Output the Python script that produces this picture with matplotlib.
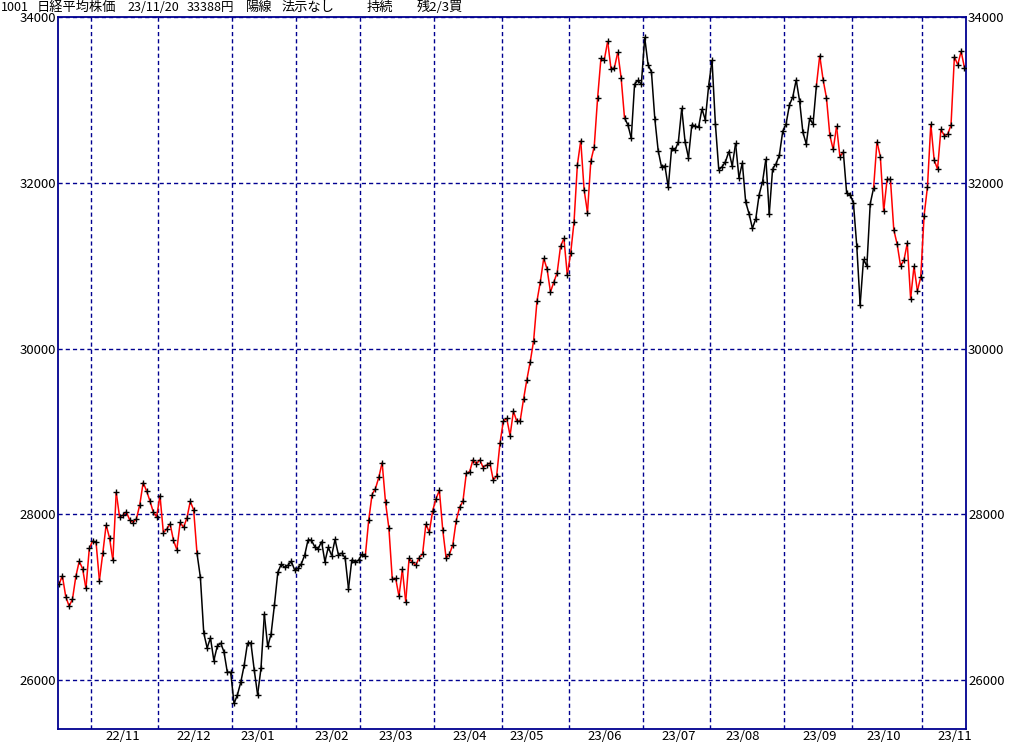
import numpy as np
import pandas as pd
import matplotlib
matplotlib.use("Agg")
import matplotlib.pyplot as plt
from matplotlib.collections import LineCollection

plt.rcParams['font.family'] = ['Noto Sans CJK JP', 'DejaVu Sans']

# TSE holidays inside the range
HOLIDAYS = ["2022-11-03", "2022-11-23", "2023-01-02", "2023-01-03", "2023-01-09",
            "2023-02-23", "2023-03-21", "2023-05-03", "2023-05-04", "2023-05-05",
            "2023-07-17", "2023-08-11", "2023-09-18", "2023-10-09", "2023-11-03"]

# daily closes, read month by month
oct22 = [27156, 27257, 27007, 26891, 26975, 27250, 27432, 27345, 27105, 27587]
nov22 = [27679, 27663, 27200, 27528, 27872, 27716, 27446, 28264, 27963, 27990,
         28028, 27931, 27900, 27945, 28116, 28383, 28283, 28163, 28028, 27969]
dec22 = [28226, 27778, 27820, 27886, 27686, 27574, 27901, 27842, 27955, 28156,
         28052, 27527, 27238, 26568, 26388, 26508, 26235, 26406, 26448, 26341,
         26094, 26095]
jan23 = [25717, 25821, 25974, 26176, 26446, 26450, 26120, 25822, 26139, 26791,
         26405, 26554, 26906, 27299, 27395, 27363, 27383, 27433, 27327]
feb23 = [27347, 27402, 27509, 27694, 27685, 27606, 27584, 27671, 27427, 27603,
         27502, 27696, 27513, 27532, 27473, 27104, 27453, 27424, 27446]
mar23 = [27517, 27499, 27927, 28238, 28309, 28444, 28623, 28144, 27833, 27222,
         27229, 27011, 27334, 26946, 27467, 27420, 27385, 27477, 27518, 27884,
         27783, 28041]
apr23 = [28188, 28287, 27813, 27473, 27518, 27634, 27923, 28083, 28157, 28493,
         28515, 28659, 28607, 28658, 28564, 28594, 28620, 28416, 28458, 28856]
may23 = [29123, 29158, 28950, 29243, 29122, 29127, 29388, 29626, 29843, 30094,
         30574, 30808, 31087, 30958, 30683, 30801, 30916, 31234, 31328, 30888]
jun23 = [31148, 31524, 32217, 32507, 31914, 31641, 32265, 32434, 33019, 33502,
         33485, 33706, 33370, 33389, 33575, 33265, 32782, 32699, 32538, 33194,
         33234, 33189]
jul23 = [33753, 33423, 33339, 32773, 32388, 32190, 32204, 31944, 32419, 32391,
         32494, 32896, 32491, 32304, 32701, 32683, 32668, 32891, 32759, 33172]
aug23 = [33477, 32708, 32159, 32193, 32255, 32377, 32204, 32474, 32060, 32239,
         31767, 31626, 31451, 31566, 31857, 32010, 32287, 31624, 32170, 32227,
         32333, 32619]
sep23 = [32711, 32939, 33037, 33241, 32991, 32607, 32468, 32776, 32707, 33168,
         33533, 33243, 33024, 32571, 32402, 32679, 32315, 32372, 31873, 31858]
oct23 = [31760, 31238, 30527, 31075, 30995, 31747, 31937, 32495, 32316, 31659,
         32040, 32042, 31431, 31259, 31000, 31062, 31270, 30602, 30992, 30697,
         30859]
nov23 = [31602, 31950, 32708, 32272, 32166, 32646, 32568, 32585, 32696, 33520,
         33424, 33585, 33388]

# periods drawn in red (holding)
RED_SPANS = [("2022-10-18", "2022-12-16"), ("2023-03-03", "2023-06-23"),
             ("2023-09-15", "2023-09-27"), ("2023-10-12", "2023-11-20")]

Y_TICKS = [26000, 28000, 30000, 32000, 34000]
MONTH_LABELS = ["22/11", "22/12", "23/01", "23/02", "23/03", "23/04", "23/05",
                "23/06", "23/07", "23/08", "23/09", "23/10", "23/11"]

closes = np.array(oct22 + nov22 + dec22 + jan23 + feb23 + mar23 + apr23 + may23
                  + jun23 + jul23 + aug23 + sep23 + oct23 + nov23, dtype=float)
dates = pd.bdate_range("2022-10-18", "2023-11-20", freq="C", holidays=HOLIDAYS)
assert len(dates) == len(closes), (len(dates), len(closes))
n = len(closes)
x = np.arange(n)

red = np.zeros(n, dtype=bool)
for a, b in RED_SPANS:
    red |= (dates >= pd.Timestamp(a)) & (dates <= pd.Timestamp(b))

# month start positions (gridlines) and mid-month label positions
month_start = []
label_pos = []
for lab in MONTH_LABELS:
    yy, mm = 2000 + int(lab[:2]), int(lab[3:])
    first = np.searchsorted(dates, pd.Timestamp(yy, mm, 1))
    mid = np.searchsorted(dates, pd.Timestamp(yy, mm, 15))
    month_start.append(first - 0.5)
    label_pos.append(mid)

NAVY = "#000090"

fig = plt.figure(figsize=(10.24, 7.45), dpi=100)
ax = fig.add_axes([58 / 1024, 16 / 745, 908 / 1024, 712 / 745])

segs = [[(x[i - 1], closes[i - 1]), (x[i], closes[i])] for i in range(1, n)]
cols = ["#ff0000" if red[i] else "#000000" for i in range(1, n)]
ax.add_collection(LineCollection(segs, colors=cols, linewidths=1.1, zorder=3))
ax.plot(x, closes, "+", color="black", ms=3.8, mew=1.0, zorder=4)

ax.set_xlim(-0.3, n - 1 + 0.45)
ax.set_ylim(25409, 34000)

ax.set_yticks(Y_TICKS)
ax.set_yticklabels([str(v) for v in Y_TICKS])
ax.set_xticks(month_start, minor=True)
ax.set_xticks(label_pos)
ax.set_xticklabels(MONTH_LABELS)

ax.tick_params(axis="both", which="both", length=0, labelsize=9.5, colors="black")
ax.tick_params(axis="y", labelright=True, pad=1.5)
ax.tick_params(axis="x", pad=0.5)

ax.grid(False)
ax.yaxis.grid(True, which="major", color=NAVY, linestyle=(0, (3, 2.2)), linewidth=1.0)
ax.xaxis.grid(True, which="minor", color=NAVY, linestyle=(0, (3, 2.2)), linewidth=1.0)
ax.set_axisbelow(True)

for s in ax.spines.values():
    s.set_color(NAVY)
    s.set_linewidth(1.3)

# header line
header = [(1, "1001", 9), (37, "日経平均株価", 9.5), (127, "23/11/20", 9),
          (187, "33388円", 9), (246, "陽線", 9.5), (282, "法示なし", 9.5),
          (367, "持続", 9.5), (417, "残2/3買", 9.5)]
for px, txt, fs in header:
    fig.text(px / 1024, 1 - 7.5 / 745, txt, ha="left", va="center", fontsize=fs)

fig.savefig("out.png", dpi=100, facecolor="white")
